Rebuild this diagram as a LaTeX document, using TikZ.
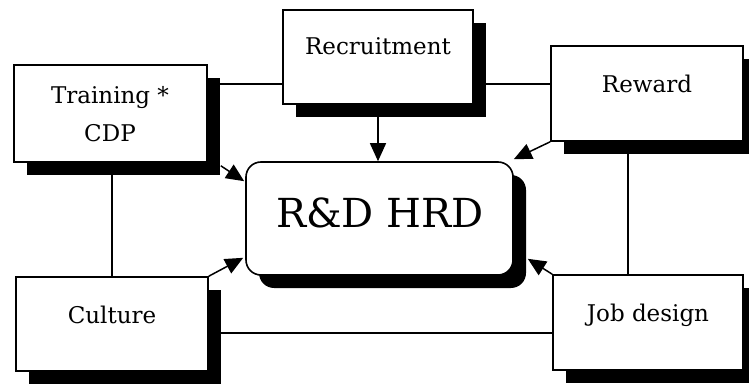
\documentclass[tikz,border=0pt]{standalone}
\usepackage{fontspec}
\setmainfont{DejaVu Serif}
\usetikzlibrary{arrows.meta,shadows,calc}

\tikzset{
  factor/.style={draw=black, line width=1.6pt, fill=white, rectangle,
    inner sep=0pt,
    drop shadow={shadow xshift=13pt, shadow yshift=-13pt, fill=black, opacity=1}},
  core/.style={factor, rounded corners=15pt},
  boxtext/.style={font=\fontsize{23}{27}\selectfont, anchor=base, inner sep=0pt},
  coretext/.style={font=\fontsize{40}{48}\selectfont, anchor=base, inner sep=0pt},
  link/.style={draw=black, line width=1.5pt},
  feed/.style={link, -{Triangle[length=18pt,width=16pt]}}
}

\begin{document}
\begin{tikzpicture}[x=1pt,y=1pt]
  \useasboundingbox (0,0) rectangle (749,383);

  % surrounding factors
  \node[factor, minimum width=193pt, minimum height=97pt] (train) at (110.5,269.5) {};
  \node[factor, minimum width=190pt, minimum height=94pt] (rec) at (378,326) {};
  \node[factor, minimum width=192pt, minimum height=95pt] (rew) at (647,289.5) {};
  \node[factor, minimum width=192pt, minimum height=94pt] (cult) at (112,59) {};
  \node[factor, minimum width=190pt, minimum height=95pt] (job) at (648,60.5) {};

  % central box
  \node[core, minimum width=267pt, minimum height=113pt] (hrd) at (379.5,164.5) {};

  % labels
  \node[boxtext] (train-a) at (110,279) {Training *};
  \node[boxtext] (train-b) at (110,241) {CDP};
  \node[boxtext] (rec-t) at (378,328) {Recruitment};
  \node[boxtext] (rew-t) at (647,290) {Reward};
  \node[boxtext] (cult-t) at (112,60) {Culture};
  \node[boxtext] (job-t) at (648,62) {Job design};
  \node[coretext] (hrd-t) at (380,155) {R\&D HRD};

  % helper rows and columns for the plain links
  \coordinate (top-row) at (0,299);
  \coordinate (low-row) at (0,50);
  \coordinate (right-col) at (628,0);

  % plain links between factors
  \draw[link] (train.east |- top-row) -- (rec.west |- top-row);
  \draw[link] (rec.east |- top-row) -- (rew.west |- top-row);
  \draw[link] (train.south -| cult.north) -- (cult.north);
  \draw[link] (rew.south -| right-col) -- (job.north -| right-col);
  \draw[link] (cult.east |- low-row) -- (job.west |- low-row);

  % arrows into the central box
  \coordinate (in-tl) at ($(hrd.north west)+(-1,-20)$);
  \coordinate (in-tr) at ($(hrd.north east)+(0,2)$);
  \coordinate (in-bl) at ($(hrd.south west)+(-2,18)$);
  \coordinate (in-br) at ($(hrd.south east)+(14,17)$);
  \draw[feed] (rec.south) -- (rec.south |- hrd.north);
  \draw[feed] ($(train.south east)+(13,-3)$) -- (in-tl);
  \draw[feed] (rew.south west) -- (in-tr);
  \draw[feed] (cult.north east) -- (in-bl);
  \draw[feed] (job.north west) -- (in-br);
\end{tikzpicture}
\end{document}
